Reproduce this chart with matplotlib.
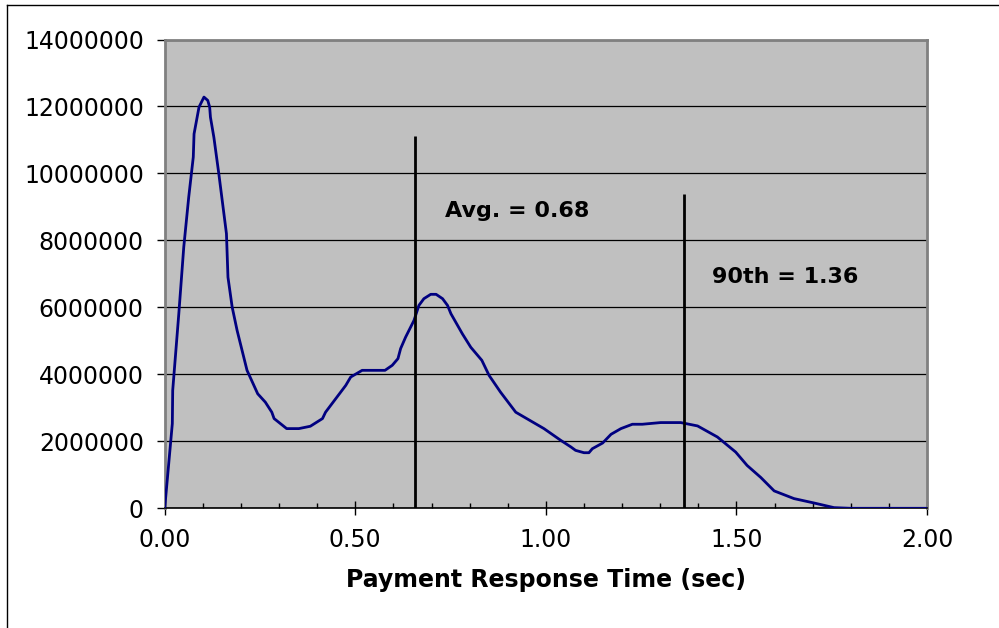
import numpy as np
import matplotlib.pyplot as plt
from matplotlib.ticker import MultipleLocator

# response time (sec) and count (millions)
resp_time = [0.000, 0.020, 0.021, 0.037, 0.050, 0.063, 0.075, 0.077, 0.090, 0.103,
             0.113, 0.118, 0.120, 0.129, 0.142, 0.162, 0.166, 0.177, 0.190, 0.216,
             0.244, 0.264, 0.281, 0.287, 0.320, 0.352, 0.382, 0.414, 0.422, 0.475,
             0.488, 0.518, 0.578, 0.597, 0.612, 0.619, 0.632, 0.654, 0.667, 0.680,
             0.698, 0.712, 0.729, 0.742, 0.751, 0.781, 0.803, 0.832, 0.851, 0.881,
             0.921, 0.995, 1.039, 1.066, 1.078, 1.100, 1.113, 1.122, 1.149, 1.171,
             1.197, 1.227, 1.253, 1.301, 1.354, 1.398, 1.450, 1.498, 1.528, 1.564,
             1.599, 1.651, 1.703, 1.756, 1.800, 2.000]
count_m = [0.00, 2.53, 3.52, 5.81, 7.80, 9.29, 10.49, 11.18, 11.98, 12.28,
           12.18, 11.98, 11.68, 11.08, 9.99, 8.20, 6.90, 6.01, 5.31, 4.12,
           3.42, 3.17, 2.87, 2.68, 2.38, 2.38, 2.45, 2.68, 2.87, 3.67,
           3.92, 4.12, 4.12, 4.27, 4.47, 4.77, 5.11, 5.61, 6.06, 6.26,
           6.39, 6.39, 6.26, 6.06, 5.81, 5.21, 4.81, 4.42, 3.97, 3.47,
           2.87, 2.38, 2.03, 1.83, 1.73, 1.66, 1.66, 1.78, 1.95, 2.21,
           2.38, 2.51, 2.51, 2.56, 2.56, 2.46, 2.13, 1.68, 1.28, 0.92,
           0.52, 0.29, 0.16, 0.02, 0.00, 0.00]

avg_x, avg_top = 0.657, 11.13e6
p90_x, p90_top = 1.363, 9.40e6
avg_label = 'Avg. = 0.68'
p90_label = '90th = 1.36'

x = np.array(resp_time)
y = np.array(count_m) * 1e6

plt.rcParams['font.family'] = 'DejaVu Sans'

fig = plt.figure(figsize=(9.99, 6.28), dpi=100)
W, H = 999, 628
ax = fig.add_axes([164.7 / W, 1 - 508.3 / H, (927 - 164.7) / W, (508.3 - 39.5) / H])
ax.set_facecolor('#c0c0c0')

# chart area border (only top and left visible)
fig.add_artist(plt.Line2D([7 / W, 7 / W], [0, 1 - 5 / H], color='black', lw=1))
fig.add_artist(plt.Line2D([7 / W, 1], [1 - 5 / H, 1 - 5 / H], color='black', lw=1))

ax.plot(x, y, color='#000080', lw=2.0, zorder=3)
ax.vlines([avg_x, p90_x], 0, [avg_top, p90_top], color='black', lw=2.0, zorder=4)
ax.text(avg_x + 0.079, 8.87e6, avg_label, fontsize=16, fontweight='bold', va='center', ha='left')
ax.text(p90_x + 0.074, 6.91e6, p90_label, fontsize=16, fontweight='bold', va='center', ha='left')

ax.set_xlim(0, 2)
ax.set_ylim(0, 14e6)
ax.yaxis.set_major_locator(MultipleLocator(2e6))
ax.xaxis.set_major_locator(MultipleLocator(0.5))
ax.xaxis.set_minor_locator(MultipleLocator(0.1))
ax.set_yticks(ax.get_yticks())
ax.set_yticklabels([f'{int(v)}' for v in ax.get_yticks()])
ax.set_xticks(ax.get_xticks())
ax.set_xticklabels([f'{v:.2f}' for v in ax.get_xticks()])
ax.set_xlim(0, 2)
ax.set_ylim(0, 14e6)

ax.grid(axis='y', color='black', lw=0.9, zorder=1)
ax.set_axisbelow(True)

for s in ['top', 'right', 'left']:
    ax.spines[s].set_color('#808080')
    ax.spines[s].set_linewidth(2)
ax.spines['bottom'].set_color('black')
ax.spines['bottom'].set_linewidth(1.2)

ax.tick_params(axis='y', direction='out', length=6, width=1, labelsize=17, pad=9)
ax.tick_params(axis='x', which='major', direction='inout', length=10, width=1, labelsize=17, pad=9)
ax.tick_params(axis='x', which='minor', direction='in', length=3.5, width=1)

ax.set_xlabel('Payment Response Time (sec)', fontsize=17, fontweight='bold', labelpad=12)

plt.savefig('out.png', dpi=100)
